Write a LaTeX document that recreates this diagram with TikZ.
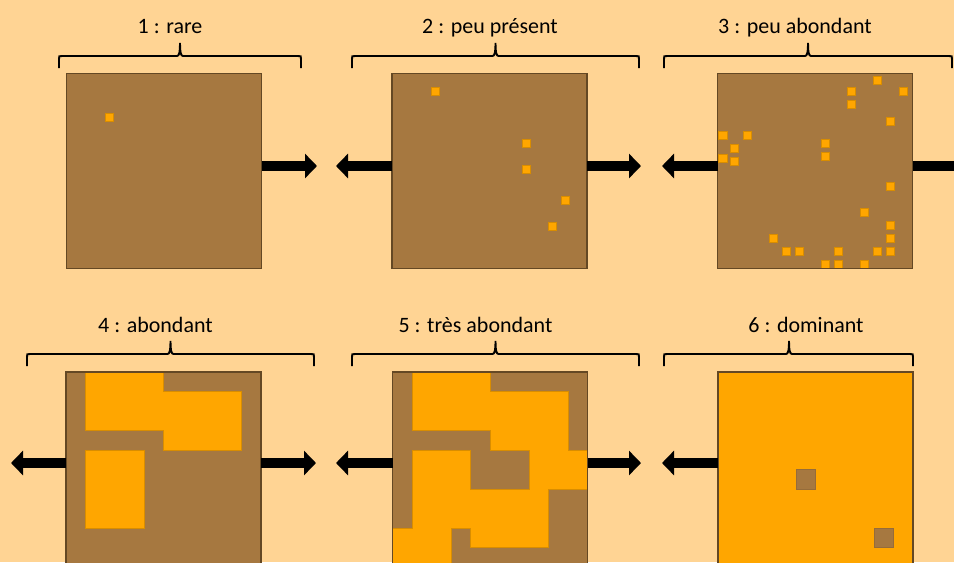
\documentclass[tikz,border=0pt]{standalone}
\usepackage{fontspec}
\setmainfont{Carlito}
\usetikzlibrary{arrows.meta}

\definecolor{bg}{RGB}{255,212,148}
\definecolor{soil}{RGB}{166,120,64}
\definecolor{ore}{RGB}{255,166,0}
\definecolor{rim}{RGB}{100,72,36}

\begin{document}
\begin{tikzpicture}[
    x=0.2mm, y=-0.2mm,
    every node/.style={font=\fontsize{12.5}{15}\selectfont},
    panel/.style={rectangle, fill=soil, minimum size=39mm, inner sep=0pt, outer sep=0pt},
    rimline/.style={draw=rim, line width=0.6pt},
    spot/.style={fill=ore, draw=ore!85!black, line width=0.3pt},
    patch/.style={fill=ore, draw=ore!85!black, line width=0.4pt},
    hole/.style={fill=soil, draw=soil!90!black, line width=0.4pt},
    arr/.style={line width=2.1mm, -{Triangle[length=2.4mm, width=4.8mm]}},
    brk/.style={line width=1.1pt},
    lbl/.style={anchor=base, inner sep=0pt},
  ]
  \clip (0,0) rectangle (954,562);
  \fill[bg] (0,0) rectangle (954,562);

  % the six plots
  \node[panel] (q1) at (164,171) {};
  \node[panel] (q2) at (489.5,171) {};
  \node[panel] (q3) at (815,171) {};
  \node[panel] (q4) at (163.5,469.5) {};
  \node[panel] (q5) at (490,469.5) {};
  \node[panel, fill=ore] (q6) at (815.5,469.5) {};

  % scattered spots
  \draw[spot] (105,113) rectangle ++(8.3,8.3);
  \foreach \x/\y in {431/87, 522/139, 522/165, 561/196, 548/222}
    \draw[spot] (\x,\y) rectangle ++(8.3,8.3);
  \foreach \x/\y in {873/76, 847/87, 899/87, 847/100, 886/117, 718.7/131, 743/131,
                     730/144, 821/139, 821/152, 718.7/154, 730/157, 886/182, 860/208,
                     886/221, 769/234, 886/234, 782/247, 795/247, 834/247, 873/247,
                     886/247, 821/260, 834/260, 860/260}
    \draw[spot] (\x,\y) rectangle ++(8.3,8.3);

  % patches on a 10x10 grid
  \begin{scope}[shift={(q4.north west)}, x=3.9mm, y=-3.9mm]
    \draw[patch] (1,0) -- (5,0) -- (5,1) -- (9,1) -- (9,4) -- (5,4) -- (5,3) -- (1,3) -- cycle;
    \draw[patch] (1,4) rectangle (4,8);
  \end{scope}
  \begin{scope}[shift={(q5.north west)}, x=3.9mm, y=-3.9mm]
    \draw[patch] (1,0) -- (5,0) -- (5,1) -- (9,1) -- (9,4) -- (10,4) -- (10,6) -- (8,6)
      -- (8,9) -- (4,9) -- (4,8) -- (3,8) -- (3,10) -- (0,10) -- (0,8) -- (1,8) -- (1,4)
      -- (4,4) -- (4,6) -- (7,6) -- (7,4) -- (5,4) -- (5,3) -- (1,3) -- cycle;
  \end{scope}
  \begin{scope}[shift={(q6.north west)}, x=3.9mm, y=-3.9mm]
    \draw[hole] (4,5) rectangle ++(1,1);
    \draw[hole] (8,8) rectangle ++(1,1);
  \end{scope}

  \foreach \q in {q1,q2,q3,q4,q5,q6}
    \draw[rimline] (\q.north west) rectangle (\q.south east);

  % arrows
  \coordinate (r1) at (317,166);
  \coordinate (l2) at (336,166);
  \coordinate (r2) at (641,166);
  \coordinate (l3) at (662,166);
  \coordinate (r3) at (967,166);
  \coordinate (l4) at (11,463);
  \coordinate (r4) at (316,463);
  \coordinate (l5) at (336,463);
  \coordinate (r5) at (641,463);
  \coordinate (l6) at (662,463);
  \draw[arr] (q1.east |- r1) -- (r1);
  \draw[arr] (q2.west |- l2) -- (l2);
  \draw[arr] (q2.east |- r2) -- (r2);
  \draw[arr] (q3.west |- l3) -- (l3);
  \draw[arr] (q3.east |- r3) -- (r3);
  \draw[arr] (q4.west |- l4) -- (l4);
  \draw[arr] (q4.east |- r4) -- (r4);
  \draw[arr] (q5.west |- l5) -- (l5);
  \draw[arr] (q5.east |- r5) -- (r5);
  \draw[arr] (q6.west |- l6) -- (l6);

  % braces
  \foreach \a/\m/\b/\y in {59/180/301/56, 352/495.5/639/56, 664/808/952/56,
                           27/170.5/314/354, 352/495.5/639/354, 664/789/913/354}
    \draw[brk] (\a,\y+12) -- (\a,\y+3) .. controls (\a,\y) .. (\a+3,\y) -- (\m-3,\y)
      .. controls (\m-1,\y) and (\m,\y-3) .. (\m,\y-13)
      .. controls (\m,\y-3) and (\m+1,\y) .. (\m+3,\y) -- (\b-3,\y)
      .. controls (\b,\y) .. (\b,\y+3) -- (\b,\y+12);

  \node[lbl] (t1) at (170,33) {1 : rare};
  \node[lbl] (t2) at (490,33) {2 : peu présent};
  \node[lbl] (t3) at (795,33) {3 : peu abondant};
  \node[lbl] (t4) at (155.5,332) {4 : abondant};
  \node[lbl] (t5) at (475.5,332) {5 : très abondant};
  \node[lbl] (t6) at (806,332) {6 : dominant};
\end{tikzpicture}
\end{document}
